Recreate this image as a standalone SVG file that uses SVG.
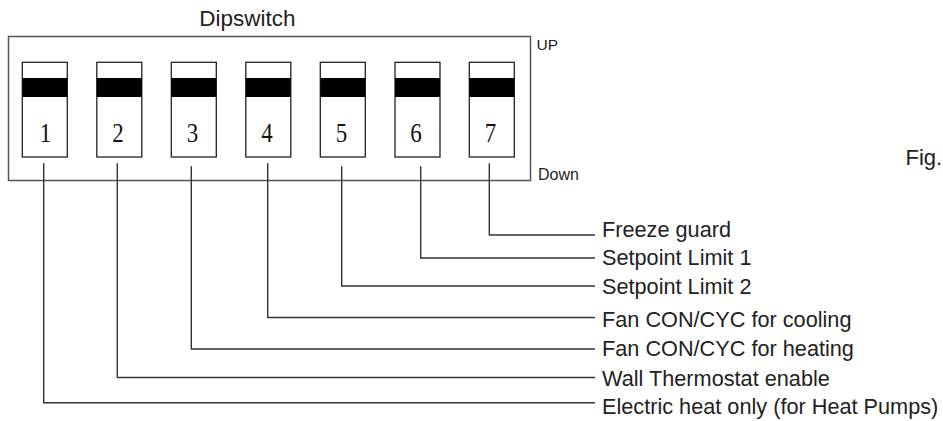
<svg xmlns="http://www.w3.org/2000/svg" width="943" height="421" viewBox="0 0 943 421">
<style>
.lbl{font-family:"Liberation Sans",Arial,sans-serif;font-size:21.7px;fill:#222}
.small{font-family:"Liberation Sans",Arial,sans-serif;font-size:16px;fill:#222}
.num{font-family:"Liberation Serif","Times New Roman",serif;font-size:28px;fill:#111;text-anchor:middle}
.sw{fill:#fff;stroke:#222;stroke-width:1.3}
.band{fill:#000}
.lead{fill:none;stroke:#333;stroke-width:1.4}
.box{fill:#fff;stroke:#555;stroke-width:1.5}
</style>
<rect width="943" height="421" fill="#fff"/>
<g id="dipswitch">
<text class="lbl" x="199.3" y="26" style="font-size:22.5px">Dipswitch</text>
<rect class="box" x="8.5" y="36.5" width="522" height="144"/>
<text class="small" x="536.5" y="50" style="font-size:15.5px">UP</text>
<text class="small" x="538" y="180">Down</text>
</g>
<g id="switch1"><rect class="sw" x="22.3" y="62.3" width="45" height="94.7"/><rect class="band" x="22.3" y="78" width="45" height="19"/><text class="num" transform="translate(45.5,141.7) scale(0.82,1)">1</text></g>
<g id="switch2"><rect class="sw" x="96.8" y="62.3" width="45" height="94.7"/><rect class="band" x="96.8" y="78" width="45" height="19"/><text class="num" transform="translate(118,141.7) scale(0.82,1)">2</text></g>
<g id="switch3"><rect class="sw" x="171.3" y="62.3" width="45" height="94.7"/><rect class="band" x="171.3" y="78" width="45" height="19"/><text class="num" transform="translate(192.5,141.7) scale(0.82,1)">3</text></g>
<g id="switch4"><rect class="sw" x="245.8" y="62.3" width="45" height="94.7"/><rect class="band" x="245.8" y="78" width="45" height="19"/><text class="num" transform="translate(267,141.7) scale(0.82,1)">4</text></g>
<g id="switch5"><rect class="sw" x="320.3" y="62.3" width="45" height="94.7"/><rect class="band" x="320.3" y="78" width="45" height="19"/><text class="num" transform="translate(341.5,141.7) scale(0.82,1)">5</text></g>
<g id="switch6"><rect class="sw" x="395" y="62.3" width="45" height="94.7"/><rect class="band" x="395" y="78" width="45" height="19"/><text class="num" transform="translate(416,141.7) scale(0.82,1)">6</text></g>
<g id="switch7"><rect class="sw" x="469.3" y="62.3" width="45" height="94.7"/><rect class="band" x="469.3" y="78" width="45" height="19"/><text class="num" transform="translate(490.5,141.7) scale(0.82,1)">7</text></g>
<g id="connectors">
<polyline class="lead" points="489.3,163.3 489.3,235 595,235"/>
<polyline class="lead" points="420.7,166.3 420.7,258 595,258"/>
<polyline class="lead" points="341.7,166.3 341.7,286 595,286"/>
<polyline class="lead" points="267.7,163.3 267.7,317.5 595,317.5"/>
<polyline class="lead" points="191.3,166.3 191.3,349 595,349"/>
<polyline class="lead" points="117.3,163.3 117.3,377.5 595,377.5"/>
<polyline class="lead" points="43.7,163.3 43.7,402.7 595,402.7"/>
</g>
<g id="label7"><text class="lbl" x="602" y="236.7">Freeze guard</text></g>
<g id="label6"><text class="lbl" x="602" y="264.5">Setpoint Limit 1</text></g>
<g id="label5"><text class="lbl" x="602" y="294.3">Setpoint Limit 2</text></g>
<g id="label4"><text class="lbl" x="602" y="326.5">Fan CON/CYC for cooling</text></g>
<g id="label3"><text class="lbl" x="602" y="355.7">Fan CON/CYC for heating</text></g>
<g id="label2"><text class="lbl" x="602" y="385.5">Wall Thermostat enable</text></g>
<g id="label1"><text class="lbl" x="602" y="414.3">Electric heat only (for Heat Pumps)</text></g>
<g id="fig"><text class="lbl" x="905.5" y="165" style="font-size:22px">Fig.</text></g>
</svg>
